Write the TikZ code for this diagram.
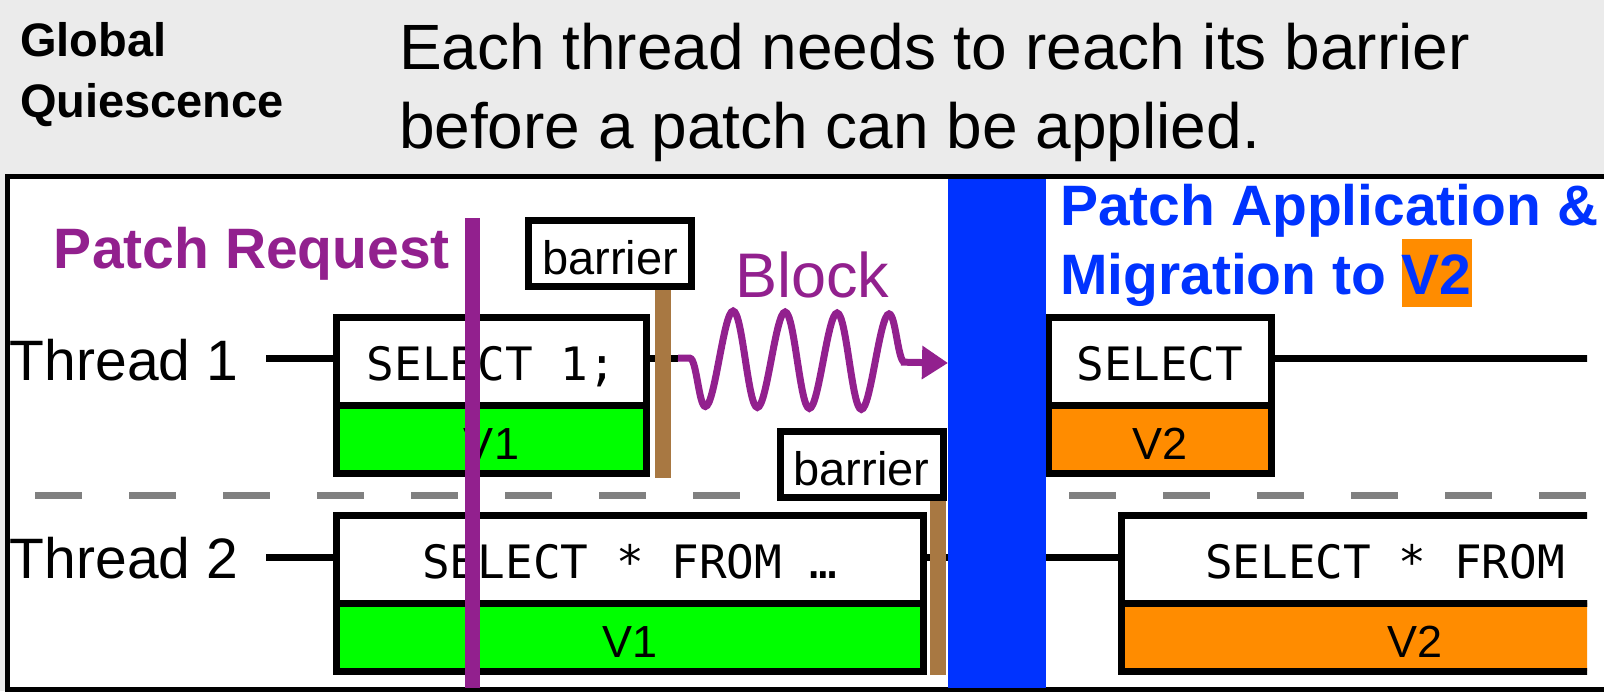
\documentclass[tikz,border=0pt]{standalone}
\usepackage{fontspec}
\setmainfont{Liberation Sans}
\setmonofont{DejaVu Sans Mono}
\usepackage{tikz}
\usetikzlibrary{positioning,decorations.pathmorphing,arrows.meta}
\definecolor{reqpurple}{RGB}{146,32,142}
\definecolor{patchblue}{RGB}{0,51,255}
\definecolor{polebrown}{RGB}{168,120,66}
\definecolor{vgreen}{RGB}{0,255,0}
\definecolor{vorange}{RGB}{255,140,0}
\definecolor{headgray}{RGB}{235,235,235}
\definecolor{dashgray}{RGB}{128,128,128}

\begin{document}
\begin{tikzpicture}[x=0.5pt, y=-0.5pt,
    every node/.style={inner sep=0pt, outer sep=0pt},
    qbox/.style={draw, line width=3.5pt, fill=white, minimum height=44pt, text height=19pt, text depth=0pt, font=\ttfamily\fontsize{23}{28}\selectfont},
    verbox/.style={draw, line width=3.5pt, minimum height=34pt, text height=20pt, text depth=0pt, font=\fontsize{22.5}{27}\selectfont},
    barrierbox/.style={draw, line width=3.5pt, fill=white, minimum width=81.5pt, minimum height=33pt, text height=20.5pt, text depth=0pt, font=\fontsize{23.5}{28}\selectfont},
    tline/.style={line width=3.5pt},
    pole/.style={polebrown, line width=8pt},
    threadlbl/.style={anchor=base west, font=\fontsize{28.5}{34}\selectfont},
    bigtitle/.style={anchor=base west, font=\bfseries\fontsize{28.5}{34}\selectfont},
    blockwave/.style={reqpurple, line width=3.5pt, decorate,
        decoration={snake, mirror, amplitude=24pt, segment length=26pt, pre length=6pt, post length=12pt},
        -{Triangle[length=13pt, width=16pt]}}]

    \useasboundingbox (0,0) rectangle (1604,691);
    \clip (0,0) rectangle (1604,691);

    % Header
    \fill[headgray] (0,0) rectangle (1604,691);
    \node[anchor=base west, font=\bfseries\fontsize{23.5}{28}\selectfont] (glob) at (20,56) {Global};
    \node[anchor=base west, font=\bfseries\fontsize{23.5}{28}\selectfont] (quie) at (20,117) {Quiescence};
    \node[anchor=base west, font=\fontsize{32}{38}\selectfont] (need1) at (399,69) {Each thread needs to reach its barrier};
    \node[anchor=base west, font=\fontsize{32}{38}\selectfont] (need2) at (399,148) {before a patch can be applied.};

    % Frame
    \draw[line width=2.5pt, fill=white] (7.5,176.5) rectangle (1700,689.5);

    \begin{scope}
        \clip (0,179) rectangle (1587,687);

        % Thread separator
        \coordinate (sepa) at (35,495);
        \coordinate (sepz) at (1600,495);
        \draw[dashgray, line width=3.5pt, dash pattern=on 23.5pt off 23.5pt] (sepa) -- (sepz);

        % Thread 1
        \node[threadlbl] (t1lbl) at (10,380) {Thread 1};
        \node[qbox, minimum width=155pt] (sel1) at (491.5,361.5) {SELECT 1;};
        \node[verbox, fill=vgreen, minimum width=155pt, below=0pt of sel1] (ver1) {V1};
        \node[qbox, minimum width=111.5pt] (sel3) at (1160,361.5) {SELECT};
        \node[verbox, fill=vorange, minimum width=111.5pt, below=0pt of sel3] (ver3) {V2};

        \coordinate (t1a) at (266,358);
        \coordinate (wvs) at (678,358);
        \coordinate (wve) at (948,363);
        \coordinate (t1z) at (1600,358);
        \draw[tline] (t1a) -- (t1a -| sel1.west);
        \draw[tline] (sel1.east |- wvs) -- (wvs);
        \draw[tline] (sel3.east |- t1z) -- (t1z);

        % Thread 2
        \node[threadlbl] (t2lbl) at (10,578) {Thread 2};
        \node[qbox, minimum width=293.5pt] (sel2) at (630,559) {SELECT * FROM …};
        \node[verbox, fill=vgreen, minimum width=293.5pt, below=0pt of sel2] (ver2) {V1};
        \node[qbox, minimum width=293.5pt] (sel4) at (1415,559) {\makebox[210pt][l]{SELECT * FROM}};
        \node[verbox, fill=vorange, minimum width=293.5pt, below=0pt of sel4] (ver4) {V2};

        \coordinate (t2a) at (266,557);
        \draw[tline] (t2a) -- (t2a -| sel2.west);
        \draw[tline] (sel2.east |- t2a) -- (t2a -| sel4.west);

        % Barriers
        \node[barrierbox] (bar1) at (610,253.5) {barrier};
        \coordinate (p1top) at (662.5,290);
        \coordinate (p1bot) at (662.5,478);
        \draw[pole] (p1top) -- (p1bot);

        \node[barrierbox] (bar2) at (861.5,464.5) {barrier};
        \coordinate (p2top) at (938,501);
        \coordinate (p2bot) at (938,675);
        \draw[pole] (p2top) -- (p2bot);

        % Block
        \draw[blockwave] (wvs) -- (wve);

        % Patch application
        \fill[patchblue] (948,176) rectangle (1046,690);

        % Patch request
        \coordinate (reqtop) at (472,218);
        \coordinate (reqbot) at (472,690);
        \draw[reqpurple, line width=7.5pt] (reqtop) -- (reqbot);
    \end{scope}

    % Labels
    \node[bigtitle, text=reqpurple] (req) at (54,268) {Patch Request};
    \node[anchor=base west, text=reqpurple, font=\fontsize{31.5}{38}\selectfont] (blk) at (735,297) {Block};
    \node[bigtitle, text=patchblue] (app1) at (1060,225) {Patch Application \&};
    \node[bigtitle, text=patchblue] (app2) at (1060,294) {Migration to {\setlength{\fboxsep}{0pt}\colorbox{vorange}{\rule[-6.5pt]{0pt}{34pt}V2}}};
\end{tikzpicture}
\end{document}
